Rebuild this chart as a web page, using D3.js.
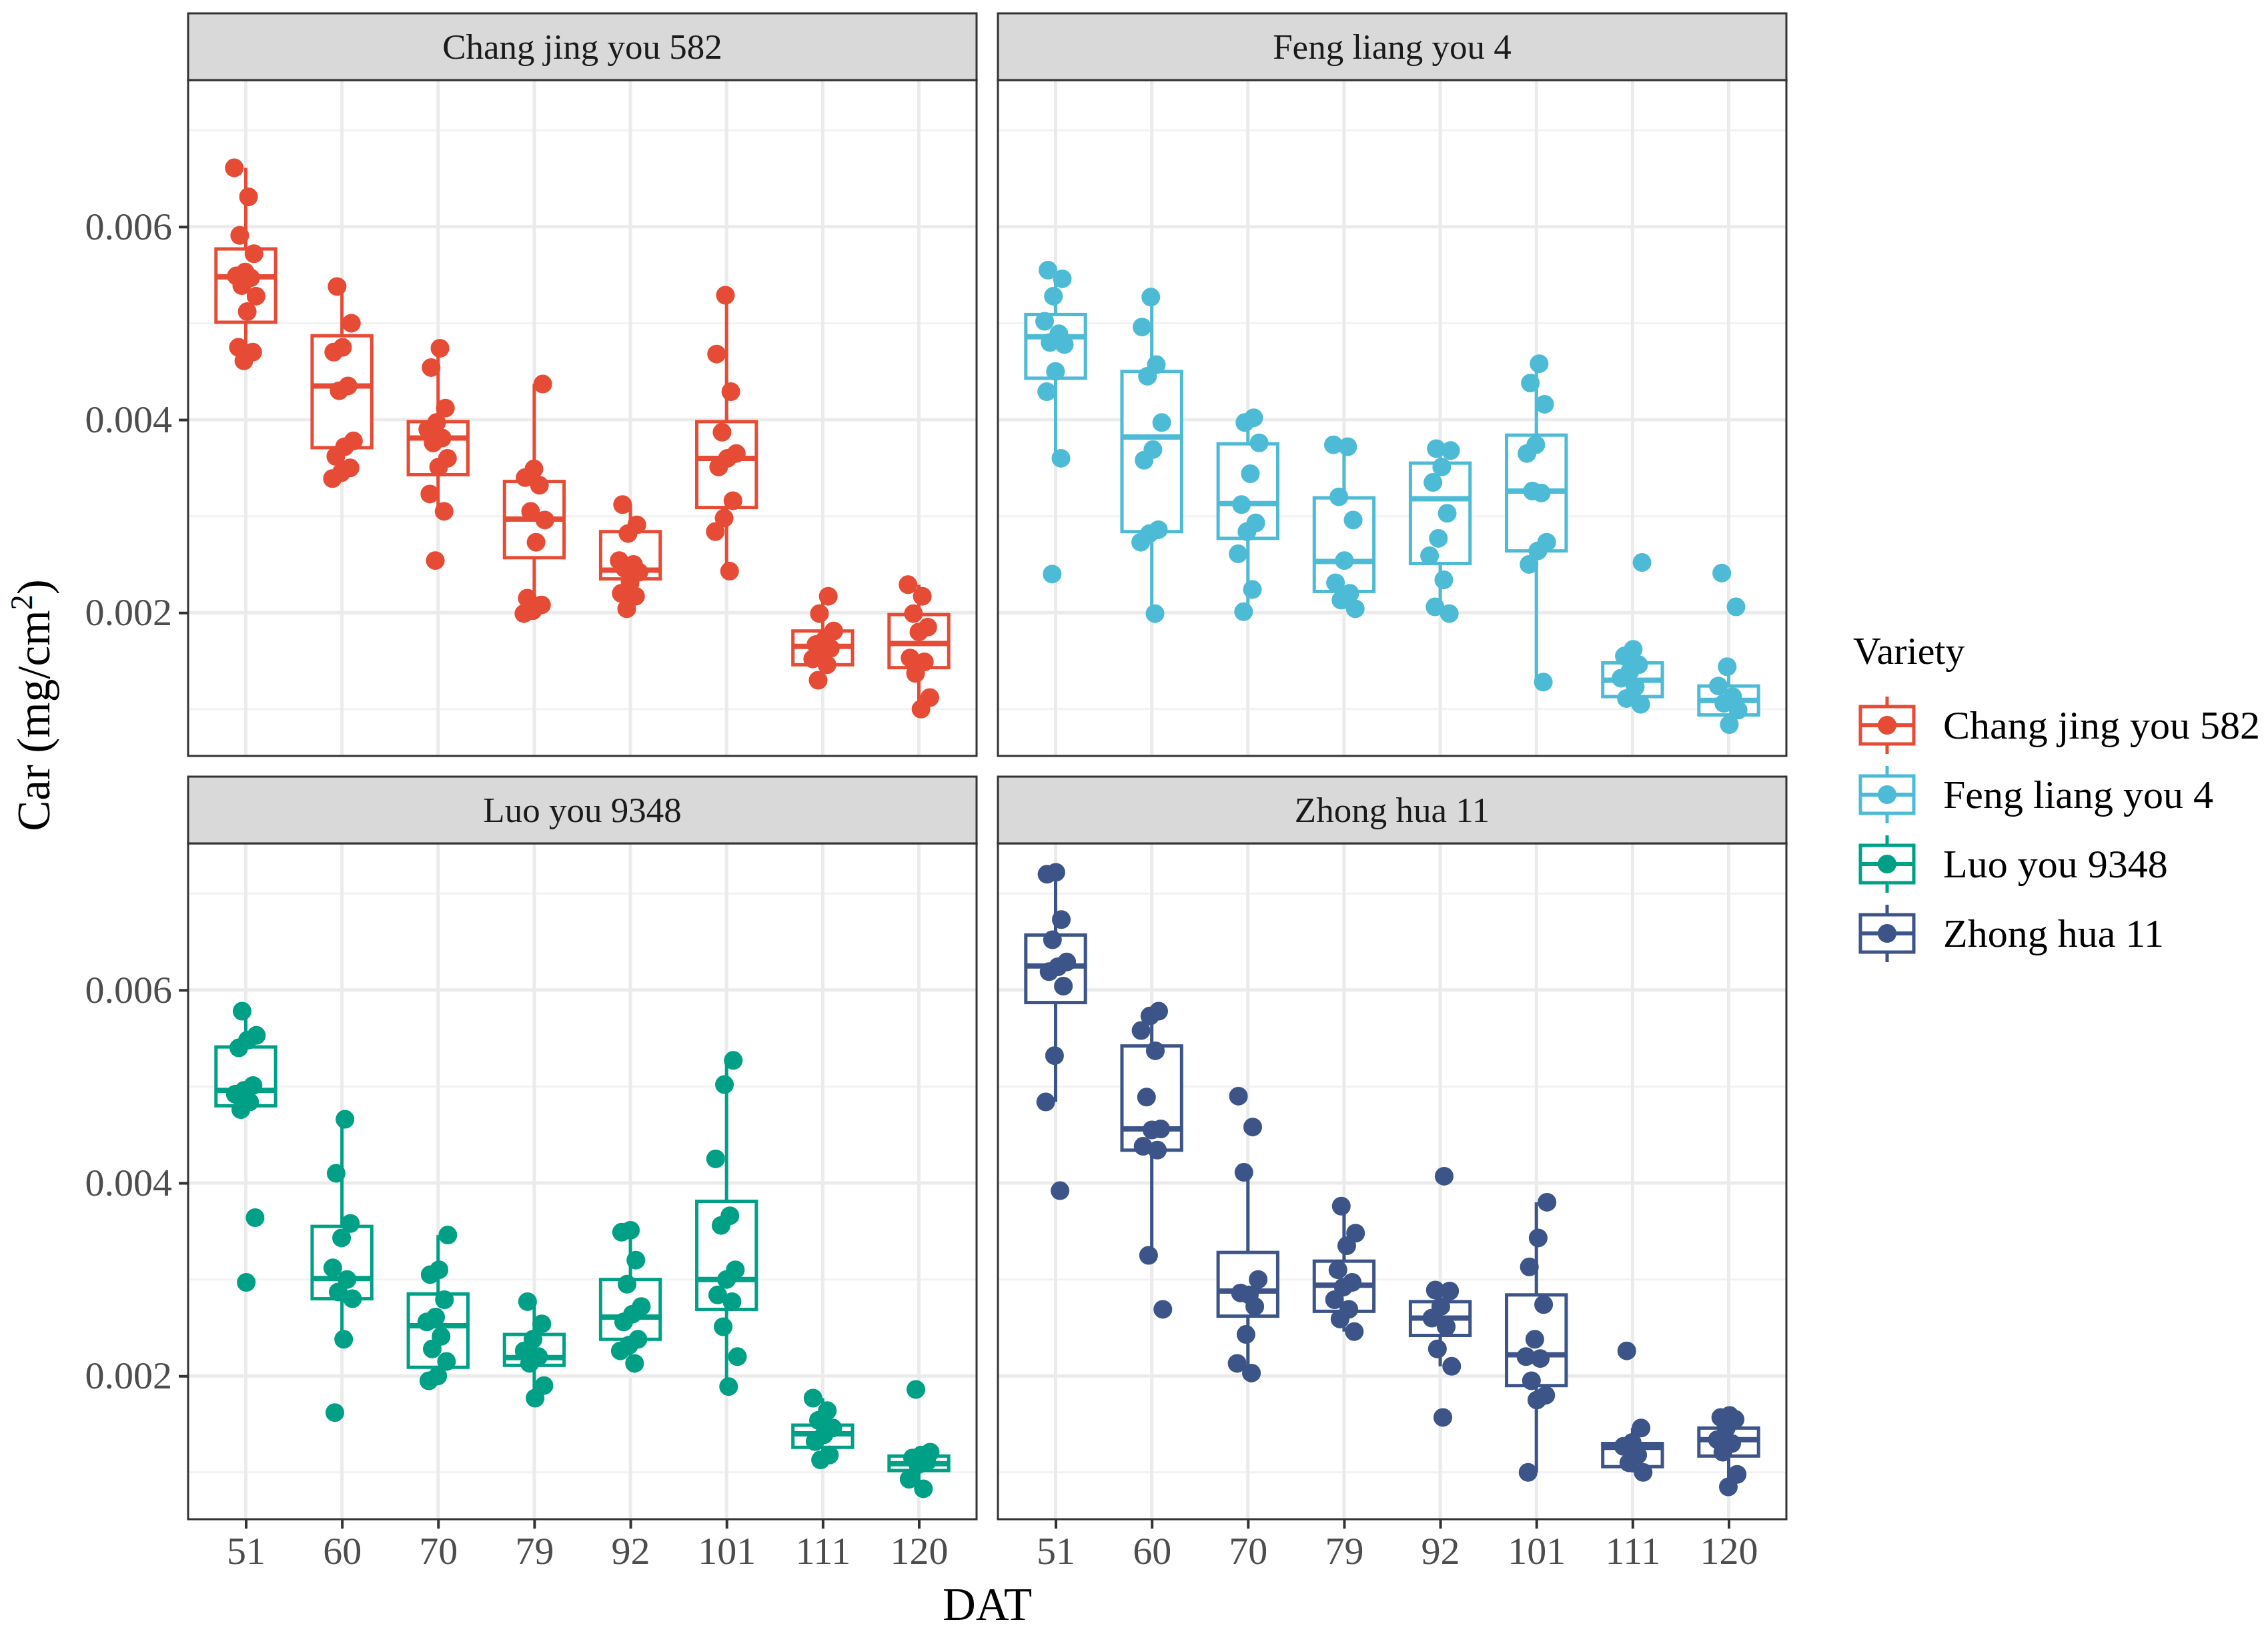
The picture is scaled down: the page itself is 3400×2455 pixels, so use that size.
<!DOCTYPE html>
<html>
<head>
<meta charset="utf-8">
<script src="https://cdn.jsdelivr.net/npm/d3@7"></script>
<style>
  body { margin: 0; background: #fff; }
  svg { display: block; }
</style>
</head>
<body>
<svg id="grafico" width="3400" height="2455"></svg>
<script>
// Car (mg/cm²) per variety and DAT. Values below are in units of 0.001 mg/cm².
const dias = ["51", "60", "70", "79", "92", "101", "111", "120"];
const variedades = ["Chang jing you 582", "Feng liang you 4", "Luo you 9348", "Zhong hua 11"];
const cores = ["#E64B35", "#4DBBD5", "#00A087", "#3C5488"];
const ticksY = [0.002, 0.004, 0.006];
const ticksYMenores = [0.001, 0.003, 0.005, 0.007];

// points, one list per DAT
const pontosChangJing = [
  [6.61, 6.31, 5.91, 5.72, 5.53, 5.49, 5.47, 5.39, 5.28, 5.12, 4.75, 4.70, 4.61],
  [5.38, 5.00, 4.75, 4.70, 4.35, 4.30, 3.78, 3.72, 3.62, 3.50, 3.45, 3.39],
  [4.74, 4.54, 4.12, 3.97, 3.90, 3.81, 3.76, 3.60, 3.51, 3.23, 3.05, 2.54],
  [4.37, 3.49, 3.40, 3.32, 3.05, 2.96, 2.73, 2.15, 2.08, 2.02, 1.99],
  [3.12, 2.91, 2.82, 2.54, 2.50, 2.46, 2.42, 2.31, 2.20, 2.17, 2.04],
  [5.29, 4.68, 4.29, 3.87, 3.65, 3.60, 3.51, 3.16, 2.98, 2.84, 2.43],
  [2.17, 1.99, 1.81, 1.72, 1.67, 1.63, 1.58, 1.52, 1.46, 1.30],
  [2.29, 2.17, 1.99, 1.85, 1.80, 1.53, 1.49, 1.37, 1.12, 1.00]
];
const pontosFengLiang = [
  [5.55, 5.46, 5.28, 5.02, 4.89, 4.80, 4.78, 4.50, 4.29, 3.60, 2.40],
  [5.27, 4.96, 4.57, 4.45, 3.97, 3.69, 3.58, 2.86, 2.82, 2.73, 1.99],
  [4.02, 3.97, 3.76, 3.44, 3.12, 2.93, 2.84, 2.61, 2.24, 2.01],
  [3.74, 3.72, 3.20, 2.96, 2.54, 2.31, 2.20, 2.13, 2.04],
  [3.70, 3.68, 3.51, 3.35, 3.03, 2.77, 2.59, 2.34, 2.06, 1.99],
  [4.58, 4.38, 4.16, 3.74, 3.65, 3.24, 3.26, 2.73, 2.64, 2.50, 1.28],
  [2.52, 1.62, 1.55, 1.46, 1.39, 1.32, 1.23, 1.11, 1.05],
  [2.41, 2.06, 1.44, 1.24, 1.13, 1.06, 0.99, 0.84]
];
const pontosLuoYou = [
  [5.78, 5.53, 5.48, 5.40, 5.01, 4.96, 4.92, 4.84, 4.76, 3.64, 2.97],
  [4.66, 4.10, 3.58, 3.43, 3.12, 3.00, 2.87, 2.80, 2.38, 1.62],
  [3.46, 3.10, 3.05, 2.79, 2.61, 2.56, 2.41, 2.28, 2.15, 2.00, 1.95],
  [2.77, 2.54, 2.38, 2.26, 2.20, 2.13, 1.90, 1.77],
  [3.51, 3.49, 3.20, 2.95, 2.72, 2.64, 2.56, 2.38, 2.32, 2.26, 2.13],
  [5.27, 5.02, 4.25, 3.66, 3.56, 3.10, 3.00, 2.84, 2.77, 2.51, 2.20, 1.89],
  [1.77, 1.64, 1.54, 1.46, 1.39, 1.32, 1.18, 1.13],
  [1.86, 1.21, 1.18, 1.15, 1.11, 1.08, 0.93, 0.83]
];
const pontosZhongHua = [
  [7.22, 7.20, 6.73, 6.52, 6.29, 6.24, 6.19, 6.04, 5.32, 4.84, 3.92],
  [5.78, 5.73, 5.58, 5.37, 4.89, 4.56, 4.55, 4.38, 4.34, 3.25, 2.69],
  [4.90, 4.58, 4.11, 3.00, 2.84, 2.86, 2.72, 2.43, 2.13, 2.03],
  [3.76, 3.48, 3.35, 3.10, 2.97, 2.92, 2.79, 2.69, 2.59, 2.46],
  [4.07, 2.89, 2.88, 2.72, 2.60, 2.51, 2.28, 2.10, 1.57],
  [3.80, 3.43, 3.13, 2.74, 2.38, 2.20, 2.18, 1.95, 1.80, 1.75, 1.00],
  [2.26, 1.46, 1.31, 1.27, 1.18, 1.10, 1.00],
  [1.59, 1.57, 1.55, 1.46, 1.34, 1.30, 1.21, 0.98, 0.85]
];

// box stats per DAT: [lower whisker, q1, median, q3, upper whisker]
const caixasChangJing = [
  [4.61, 5.01, 5.48, 5.77, 6.61], [3.39, 3.71, 4.35, 4.87, 5.38],
  [3.05, 3.43, 3.81, 3.98, 4.74], [1.99, 2.57, 2.97, 3.36, 4.37],
  [2.04, 2.35, 2.44, 2.84, 3.12], [2.43, 3.09, 3.60, 3.98, 5.29],
  [1.30, 1.46, 1.65, 1.81, 2.17], [1.00, 1.43, 1.68, 1.98, 2.29]
];
const caixasFengLiang = [
  [3.60, 4.43, 4.86, 5.09, 5.55], [1.99, 2.84, 3.82, 4.50, 5.27],
  [2.01, 2.77, 3.13, 3.75, 4.02], [2.04, 2.22, 2.53, 3.19, 3.74],
  [1.99, 2.51, 3.18, 3.55, 3.70], [1.28, 2.64, 3.26, 3.84, 4.58],
  [1.05, 1.13, 1.30, 1.48, 1.62], [0.84, 0.94, 1.09, 1.24, 1.44]
];
const caixasLuoYou = [
  [4.76, 4.80, 4.96, 5.41, 5.78], [2.38, 2.80, 3.01, 3.55, 4.66],
  [1.95, 2.09, 2.52, 2.85, 3.46], [1.77, 2.11, 2.19, 2.43, 2.77],
  [2.13, 2.38, 2.61, 3.00, 3.51], [1.89, 2.69, 3.00, 3.81, 5.27],
  [1.13, 1.26, 1.40, 1.49, 1.77], [0.83, 1.02, 1.09, 1.17, 1.21]
];
const caixasZhongHua = [
  [4.84, 5.87, 6.25, 6.57, 7.22], [3.25, 4.34, 4.56, 5.42, 5.78],
  [2.03, 2.62, 2.88, 3.28, 4.11], [2.46, 2.67, 2.94, 3.19, 3.76],
  [2.10, 2.42, 2.60, 2.77, 2.89], [1.00, 1.90, 2.22, 2.84, 3.80],
  [1.00, 1.06, 1.26, 1.30, 1.46], [0.85, 1.17, 1.34, 1.46, 1.59]
];

const pontos = [pontosChangJing, pontosFengLiang, pontosLuoYou, pontosZhongHua];
const caixas = [caixasChangJing, caixasFengLiang, caixasLuoYou, caixasZhongHua];
const unidade = 0.001;

const FONTE = "'Liberation Serif', 'Times New Roman', serif";
const painelX = [282, 1496];
const plotTopo = [120, 1264];
const painelW = 1182;
const plotH = 1013;
const faixaH = 100;

const x = d3.scalePoint().domain(dias).range([0, painelW]).padding(0.6);
const y = d3.scaleLinear().domain([0.000515, 0.00752]).range([plotH, 0]);
const larguraCaixa = x.step() * 0.62;

const svg = d3.select("#grafico");
svg.append("rect").attr("width", 3400).attr("height", 2455).attr("fill", "#fff");

variedades.forEach((nome, v) => {
  const col = v % 2;
  const lin = Math.floor(v / 2);
  const cor = cores[v];
  const g = svg.append("g").attr("transform", `translate(${painelX[col]},${plotTopo[lin]})`);

  // grid
  g.selectAll("line.menor").data(ticksYMenores).join("line")
    .attr("x1", 0).attr("x2", painelW)
    .attr("y1", (d) => y(d)).attr("y2", (d) => y(d))
    .attr("stroke", "#F2F2F2").attr("stroke-width", 3);
  g.selectAll("line.maior").data(ticksY).join("line")
    .attr("x1", 0).attr("x2", painelW)
    .attr("y1", (d) => y(d)).attr("y2", (d) => y(d))
    .attr("stroke", "#EBEBEB").attr("stroke-width", 5);
  g.selectAll("line.vert").data(dias).join("line")
    .attr("x1", (d) => x(d)).attr("x2", (d) => x(d))
    .attr("y1", 0).attr("y2", plotH)
    .attr("stroke", "#EBEBEB").attr("stroke-width", 5);

  // boxes
  const dadosCaixa = caixas[v].map((c, i) => ({ dia: dias[i], st: c.map((s) => s * unidade) }));
  const gc = g.selectAll("g.caixa").data(dadosCaixa).join("g").attr("class", "caixa");
  gc.append("line")
    .attr("x1", (d) => x(d.dia)).attr("x2", (d) => x(d.dia))
    .attr("y1", (d) => y(d.st[4])).attr("y2", (d) => y(d.st[3]))
    .attr("stroke", cor).attr("stroke-width", 5);
  gc.append("line")
    .attr("x1", (d) => x(d.dia)).attr("x2", (d) => x(d.dia))
    .attr("y1", (d) => y(d.st[1])).attr("y2", (d) => y(d.st[0]))
    .attr("stroke", cor).attr("stroke-width", 5);
  gc.append("rect")
    .attr("x", (d) => x(d.dia) - larguraCaixa / 2).attr("width", larguraCaixa)
    .attr("y", (d) => y(d.st[3])).attr("height", (d) => y(d.st[1]) - y(d.st[3]))
    .attr("fill", "#fff").attr("stroke", cor).attr("stroke-width", 5);
  gc.append("line")
    .attr("x1", (d) => x(d.dia) - larguraCaixa / 2).attr("x2", (d) => x(d.dia) + larguraCaixa / 2)
    .attr("y1", (d) => y(d.st[2])).attr("y2", (d) => y(d.st[2]))
    .attr("stroke", cor).attr("stroke-width", 8);

  // jittered points (deterministic spread)
  const dadosPontos = [];
  pontos[v].forEach((lista, i) => {
    lista.forEach((val, k) => {
      const frac = ((k * 0.618034 + i * 0.29 + v * 0.17) % 1) * 2 - 1;
      dadosPontos.push({ dia: dias[i], val: val * unidade, dx: frac * x.step() * 0.12 });
    });
  });
  g.selectAll("circle.ponto").data(dadosPontos).join("circle")
    .attr("cx", (d) => x(d.dia) + d.dx)
    .attr("cy", (d) => y(d.val))
    .attr("r", 14)
    .attr("fill", cor);

  // border
  g.append("rect").attr("width", painelW).attr("height", plotH)
    .attr("fill", "none").attr("stroke", "#333333").attr("stroke-width", 3);

  // strip
  const gs = svg.append("g").attr("transform", `translate(${painelX[col]},${plotTopo[lin] - faixaH})`);
  gs.append("rect").attr("width", painelW).attr("height", faixaH)
    .attr("fill", "#D9D9D9").attr("stroke", "#333333").attr("stroke-width", 3);
  gs.append("text").attr("x", painelW / 2).attr("y", faixaH / 2)
    .attr("text-anchor", "middle").attr("dominant-baseline", "central")
    .attr("font-family", FONTE).attr("font-size", 53).attr("fill", "#1A1A1A")
    .text(nome);

  // axes
  if (col === 0) {
    g.append("g")
      .call(d3.axisLeft(y).tickValues(ticksY).tickSize(14).tickPadding(10).tickFormat(d3.format(".3f")))
      .call((sel) => sel.select(".domain").remove())
      .call((sel) => sel.selectAll("line").attr("stroke", "#333333").attr("stroke-width", 4))
      .call((sel) => sel.selectAll("text").attr("fill", "#4D4D4D").attr("font-size", 58).attr("font-family", FONTE));
  }
  if (lin === 1) {
    g.append("g").attr("transform", `translate(0,${plotH})`)
      .call(d3.axisBottom(x).tickSize(14).tickPadding(12))
      .call((sel) => sel.select(".domain").remove())
      .call((sel) => sel.selectAll("line").attr("stroke", "#333333").attr("stroke-width", 4))
      .call((sel) => sel.selectAll("text").attr("fill", "#4D4D4D").attr("font-size", 58).attr("font-family", FONTE));
  }
});

// axis titles
svg.append("text").attr("x", (painelX[0] + painelX[1] + painelW) / 2).attr("y", 2428)
  .attr("text-anchor", "middle").attr("font-family", FONTE).attr("font-size", 69).attr("fill", "#000")
  .text("DAT");

const tituloY = svg.append("text")
  .attr("transform", "translate(74,1057) rotate(-90)")
  .attr("text-anchor", "middle").attr("font-family", FONTE).attr("font-size", 69).attr("fill", "#000");
tituloY.append("tspan").text("Car (mg/cm");
tituloY.append("tspan").attr("dy", -26).attr("font-size", 46).text("2");
tituloY.append("tspan").attr("dy", 26).text(")");

// legend
const leg = svg.append("g").attr("transform", "translate(2778,0)");
leg.append("text").attr("x", 0).attr("y", 995)
  .attr("font-family", FONTE).attr("font-size", 58).attr("fill", "#000").text("Variety");

const linhasLeg = [1087, 1191, 1295, 1399];
variedades.forEach((nome, v) => {
  const gl = leg.append("g").attr("transform", `translate(0,${linhasLeg[v]})`);
  const cx = 51;
  gl.append("line").attr("x1", cx).attr("x2", cx).attr("y1", -43).attr("y2", 43)
    .attr("stroke", cores[v]).attr("stroke-width", 5);
  gl.append("rect").attr("x", cx - 40).attr("y", -28).attr("width", 80).attr("height", 56)
    .attr("fill", "#fff").attr("stroke", cores[v]).attr("stroke-width", 5);
  gl.append("line").attr("x1", cx - 40).attr("x2", cx + 40).attr("y1", 0).attr("y2", 0)
    .attr("stroke", cores[v]).attr("stroke-width", 6);
  gl.append("circle").attr("cx", cx).attr("cy", 0).attr("r", 14).attr("fill", cores[v]);
  gl.append("text").attr("x", 135).attr("y", 0).attr("dominant-baseline", "central")
    .attr("font-family", FONTE).attr("font-size", 60).attr("fill", "#000").text(nome);
});
</script>
</body>
</html>
